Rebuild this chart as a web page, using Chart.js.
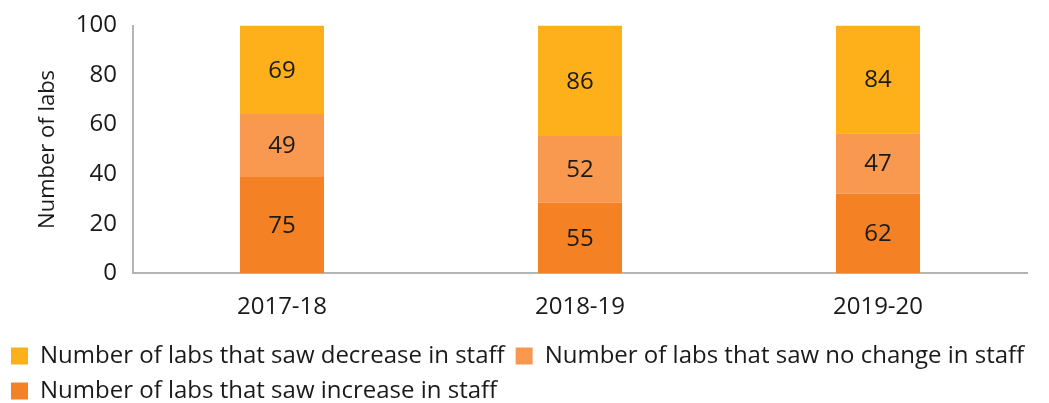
<!DOCTYPE html>
<html>
<head>
<meta charset="utf-8">
<title>Lab staffing changes</title>
<script src="https://cdn.jsdelivr.net/npm/chart.js@4/dist/chart.umd.min.js"></script>
<style>
    html, body { margin: 0; padding: 0; background: #ffffff; }
    #wrap { width: 1049px; height: 403px; position: relative; }
</style>
</head>
<body>
<div id="wrap"><canvas id="labs-chart"></canvas></div>
<script>
// Financial years on the x axis
const years = ['2017-18', '2018-19', '2019-20'];

// Number of labs in each group, per year
const increaseCounts = [75, 55, 62];
const noChangeCounts = [49, 52, 47];
const decreaseCounts = [69, 86, 84];

const seriesLabels = [
    'Number of labs that saw increase in staff',
    'Number of labs that saw no change in staff',
    'Number of labs that saw decrease in staff'
];

const yTicks = [0, 20, 40, 60, 80, 100];

const FONT = "'Open Sans', sans-serif";
const TEXT = '#1a1a1a';

// Bars are stacked to 100%, so each segment is its share of the year's total
function toShare(counts) {
    return counts.map((c, i) => {
        const total = increaseCounts[i] + noChangeCounts[i] + decreaseCounts[i];
        return (c / total) * 100;
    });
}

// Writes the raw count in the middle of each segment
const segmentLabels = {
    id: 'segmentLabels',
    afterDatasetsDraw(chart) {
        const ctx = chart.ctx;
        ctx.save();
        ctx.font = '24px ' + FONT;
        ctx.fillStyle = TEXT;
        ctx.textAlign = 'center';
        ctx.textBaseline = 'middle';
        chart.data.datasets.forEach((ds, di) => {
            chart.getDatasetMeta(di).data.forEach((bar, i) => {
                const mid = (bar.y + bar.base) / 2;
                ctx.fillText(String(ds.counts[i]), bar.x, mid + 1);
            });
        });
        ctx.restore();
    }
};

function makeDataset(label, counts, colour) {
    return {
        label: label,
        counts: counts,
        data: toShare(counts),
        backgroundColor: colour,
        borderWidth: 0,
        barPercentage: 0.282,
        categoryPercentage: 1.0
    };
}

function initLabsChart() {
    const canvas = document.getElementById('labs-chart');
    Chart.defaults.font.family = FONT;
    Chart.defaults.color = TEXT;

    new Chart(canvas.getContext('2d'), {
        type: 'bar',
        data: {
            labels: years,
            datasets: [
                makeDataset(seriesLabels[0], increaseCounts, '#F48225'),
                makeDataset(seriesLabels[1], noChangeCounts, '#F9994F'),
                makeDataset(seriesLabels[2], decreaseCounts, '#FDB01A')
            ]
        },
        options: {
            responsive: true,
            maintainAspectRatio: false,
            animation: false,
            layout: {
                // negative bottom pulls the legend down into its own padding
                padding: { top: 6, right: 0, left: 0, bottom: -10 }
            },
            plugins: {
                tooltip: { enabled: false },
                legend: {
                    position: 'bottom',
                    align: 'start',
                    reverse: true,
                    labels: {
                        boxWidth: 17,
                        boxHeight: 17,
                        padding: 11,
                        color: TEXT,
                        font: { size: 24, family: FONT }
                    }
                }
            },
            scales: {
                x: {
                    stacked: true,
                    afterFit(axis) {
                        axis.height -= 9;
                    },
                    grid: { display: false, drawTicks: false },
                    border: { color: '#b4b4b4', width: 2 },
                    ticks: {
                        padding: 20,
                        color: TEXT,
                        font: { size: 24, family: FONT }
                    }
                },
                y: {
                    stacked: true,
                    min: 0,
                    max: 100,
                    afterBuildTicks(axis) {
                        axis.ticks = yTicks.map(v => ({ value: v }));
                    },
                    afterFit(axis) {
                        axis.width = 133;
                    },
                    grid: { display: false, drawTicks: false },
                    border: { color: '#b4b4b4', width: 2 },
                    ticks: {
                        padding: 16,
                        color: TEXT,
                        font: { size: 24, family: FONT, lineHeight: 0.8 }
                    },
                    title: {
                        display: true,
                        text: 'Number of labs',
                        color: TEXT,
                        padding: { top: 35, bottom: 0 },
                        font: { size: 22, family: FONT }
                    }
                },
                // empty axis that only keeps a margin on the right of the plot
                gutter: {
                    position: 'right',
                    display: true,
                    afterFit(axis) {
                        axis.width = 22;
                    },
                    grid: { display: false },
                    border: { display: false },
                    ticks: { display: false }
                }
            }
        },
        plugins: [segmentLabels]
    });
}

document.addEventListener('DOMContentLoaded', initLabsChart);
</script>
</body>
</html>
